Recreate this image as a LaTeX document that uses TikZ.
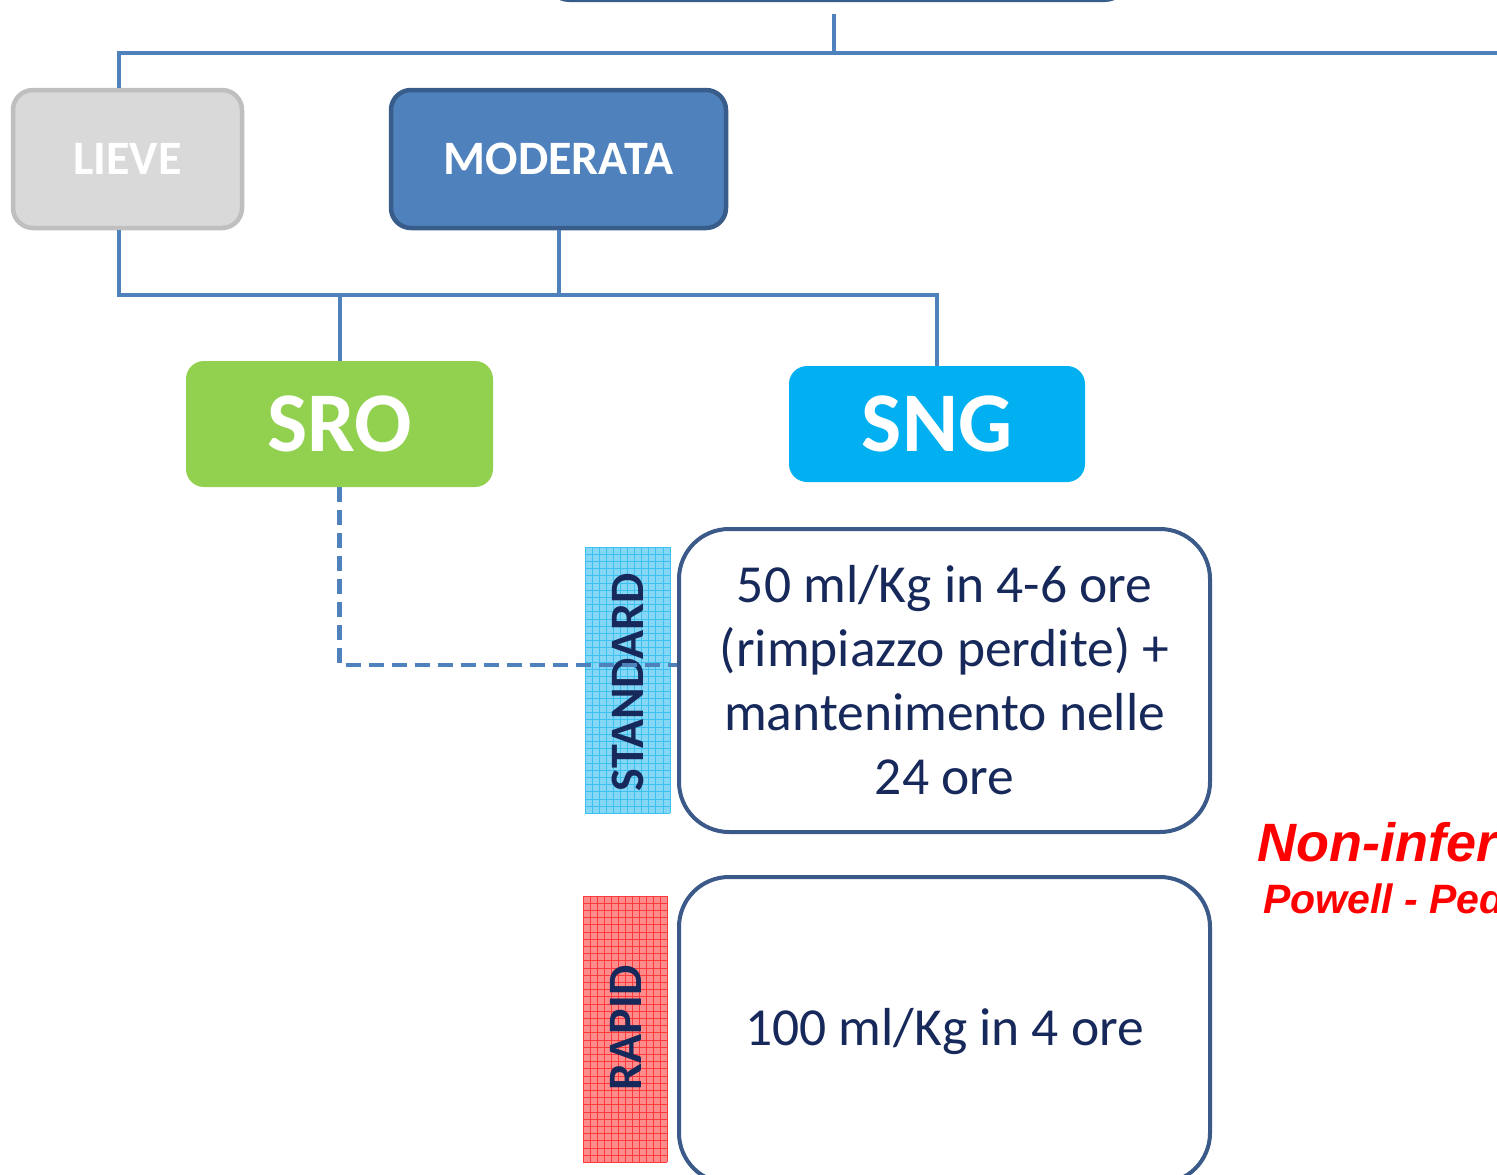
\documentclass[tikz,border=0pt]{standalone}
\usepackage{fontspec}
\setmainfont{Carlito}
\newfontfamily\arialfont{Liberation Sans}
\definecolor{conn}{HTML}{4F81BD}
\definecolor{lievefill}{HTML}{D9D9D9}
\definecolor{lievedraw}{HTML}{BFBFBF}
\definecolor{modfill}{HTML}{4F81BD}
\definecolor{moddraw}{HTML}{385D8A}
\definecolor{srofill}{HTML}{92D050}
\definecolor{sngfill}{HTML}{00B0F0}
\definecolor{boxdraw}{HTML}{3B5A8A}
\definecolor{navy}{HTML}{16295A}
\definecolor{stdfill}{HTML}{86D6F6}
\definecolor{stdgrid}{HTML}{3CC0F0}
\definecolor{rapfill}{HTML}{FF8C8C}
\definecolor{rapgrid}{HTML}{FF3A3A}
\definecolor{redtxt}{HTML}{FF0000}
\tikzset{
  conn/.style={draw=conn, line width=4},
  catbox/.style={rounded corners=20, line width=4.5, text=white,
    font=\fontsize{48}{56}\selectfont\bfseries, inner sep=0},
  methbox/.style={rounded corners=18, text=white,
    font=\fontsize{85}{96}\selectfont\bfseries, inner sep=0},
  infobox/.style={rounded corners=50, draw=boxdraw, line width=4, fill=white,
    text=navy, font=\fontsize{53.5}{64}\selectfont, align=center, inner sep=0},
  tagtext/.style={text=navy, font=\fontsize{48}{56}\selectfont\bfseries, rotate=90, inner sep=0},
  redbig/.style={text=redtxt, font=\arialfont\fontsize{54}{60}\selectfont\bfseries\itshape, anchor=base west, inner sep=0},
  redsmall/.style={text=redtxt, font=\arialfont\fontsize{41}{46}\selectfont\bfseries\itshape, anchor=base west, inner sep=0}
}
\begin{document}
\begin{tikzpicture}[x=1pt,y=-1pt]
\useasboundingbox (0,0) rectangle (1497,1175);
\clip (0,0) rectangle (1497,1175);

% partially visible top box
\node[rounded corners=22, draw=moddraw, fill=modfill, line width=4, minimum width=580, minimum height=120, inner sep=0] (top) at (837,-60) {};

% category boxes
\node[catbox, fill=lievefill, draw=lievedraw, minimum width=229, minimum height=138] (lieve) at (127.5,159) {LIEVE};
\node[catbox, fill=modfill, draw=moddraw, minimum width=335, minimum height=138] (moderata) at (558.5,159) {MODERATA};

% method boxes
\node[methbox, fill=srofill, minimum width=307, minimum height=126] (sro) at (339.5,424) {SRO};
\node[methbox, fill=sngfill, minimum width=296, minimum height=116] (sng) at (937,424) {SNG};

% info boxes
\node[infobox, minimum width=531, minimum height=303] (box1) at (944.5,680.5)
  {50 ml/Kg in 4-6 ore\\(rimpiazzo perdite) +\\mantenimento nelle\\24 ore};
\node[infobox, minimum width=531, minimum height=306] (box2) at (944.5,1030) {};
\node[text=navy, font=\fontsize{53.5}{64}\selectfont, inner sep=0] (box2txt) at (944.5,1032) {100 ml/Kg in 4 ore};

% tag labels
\fill[stdfill] (585,547) rectangle (670,813);
\foreach \i in {0,...,12} \draw[stdgrid, line width=0.7] ({585+7.08*\i},547) -- ++(0,266);
\foreach \j in {0,...,37} \draw[stdgrid, line width=0.7] (585,{547+7.2*\j}) -- ++(85,0);
\node[tagtext] (stdtxt) at (628,682) {STANDARD};

\fill[rapfill] (583,896) rectangle (667,1162);
\foreach \i in {0,...,12} \draw[rapgrid, line width=0.7] ({583+7*\i},896) -- ++(0,266);
\foreach \j in {0,...,37} \draw[rapgrid, line width=0.7] (583,{896+7.2*\j}) -- ++(84,0);
\node[tagtext] (raptxt) at (626,1028) {RAPID};

% connectors
\coordinate (rightend) at (1510,53);
\coordinate (topstub) at (834,14);
\coordinate (junc) at (0,295);
\draw[conn] (topstub) -- (topstub |- rightend);
\draw[conn] ([xshift=-8.5]lieve.north) |- (rightend);
\draw[conn] ([xshift=-8.5]lieve.south) |- (sng.north |- junc) -- (sng.north);
\draw[conn] (moderata.south) -- (moderata.south |- junc);
\draw[conn] (sro.north) -- (sro.north |- junc);
\draw[conn, line width=4.5, dash pattern=on 15 off 8] (sro.south) |- ([yshift=15.5]box1.west);

% red note (cut by the right edge, as in the reference)
\node[redbig] (noninf) at (1257,861) {Non-inferiority};
\node[redsmall] (powell) at (1263,913) {Powell - Pediatrics};
\end{tikzpicture}
\end{document}
